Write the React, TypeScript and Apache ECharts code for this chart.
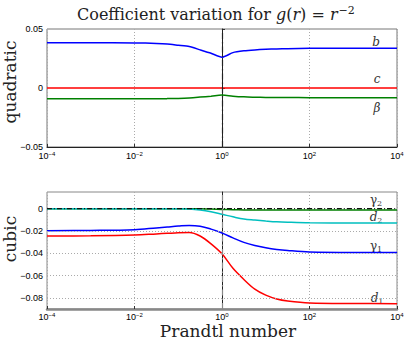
import { useEffect, useRef } from "react";
import * as echarts from "echarts";

// Prandtl numbers at which the curves are sampled
const PRANDTL = [1e-4, 1e-3, 1e-2, 0.0316, 0.0562, 0.1, 0.178, 0.316, 0.562, 1, 1.78, 3.16, 5.62, 10, 17.8, 31.6, 100, 1000, 1e4];

// Quadratic coefficients
const B_VALUES = [0.0383, 0.0383, 0.0382, 0.0378, 0.0373, 0.0362, 0.0351, 0.0323, 0.0294, 0.0261, 0.0300, 0.0315, 0.0323, 0.0328, 0.0331, 0.0333, 0.0336, 0.0337, 0.0337];
const C_VALUES = [0, 0, 0, 0, 0, 0, 0, 0, 0, 0, 0, 0, 0, 0, 0, 0, 0, 0, 0];
const BETA_VALUES = [-0.0091, -0.0091, -0.0091, -0.0091, -0.009, -0.0088, -0.0084, -0.0077, -0.0069, -0.006, -0.0069, -0.0075, -0.0078, -0.008, -0.0081, -0.0081, -0.0082, -0.0082, -0.0082];

// Cubic coefficients
const GAMMA2_VALUES = [0, 0, 0, 0, 0, 0, 0, 0, 0, 0, 0, 0, 0, 0, 0, 0, 0, 0, 0];
const GREEN_VALUES = [0, 0, 0, 0, 0, 0, 0, -0.0001, -0.0003, -0.0006, -0.0009, -0.0011, -0.0012, -0.0012, -0.0012, -0.0012, -0.0012, -0.0012, -0.0012];
const D2_VALUES = [0, 0, 0, 0, 0, 0, -0.0003, -0.0012, -0.0028, -0.005, -0.0073, -0.0093, -0.0102, -0.011, -0.0117, -0.0121, -0.0126, -0.0128, -0.0128];
const GAMMA1_VALUES = [-0.0197, -0.0195, -0.0188, -0.0172, -0.0164, -0.0156, -0.015, -0.0157, -0.0183, -0.0218, -0.0262, -0.0302, -0.033, -0.035, -0.0365, -0.0375, -0.0388, -0.0392, -0.0392];
const D1_VALUES = [-0.0245, -0.0243, -0.0236, -0.0226, -0.0221, -0.0216, -0.0214, -0.0245, -0.0315, -0.0405, -0.0535, -0.0635, -0.0722, -0.0776, -0.081, -0.0828, -0.0846, -0.0851, -0.0852];

const X_TICKS_EXP = [-4, -2, 0, 2, 4];
const CUBIC_GRID = [-0.02, -0.04, -0.06, -0.08];

const SANS = "Liberation Sans";
const SERIF = "DejaVu Serif";

const pts = (vals: number[]) => PRANDTL.map((p, i) => [Math.log10(p), vals[i]]);

const expLabel = (v: number) => {
  const e = Math.round(v);
  if (!X_TICKS_EXP.includes(e)) return "";
  return `{b|10}{s|${e < 0 ? "\u2212" + -e : e}}`;
};

const xRich = {
  b: { fontSize: 9, fontFamily: SANS, color: "#000", verticalAlign: "bottom" as const, lineHeight: 9 },
  s: { fontSize: 6, fontFamily: SANS, color: "#000", verticalAlign: "top" as const, lineHeight: 9 },
};

export default function App() {
  const ref = useRef<HTMLDivElement>(null);
  useEffect(() => {
    document.body.style.margin = "0";
    const chart = echarts.init(ref.current!, null, { renderer: "svg" });

    const xAxisBase = (gridIndex: number, lineColor: string, lineWidth: number, margin: number) => ({
      type: "value" as const,
      gridIndex,
      min: -4,
      max: 4,
      interval: 2,
      axisLine: { show: true, onZero: false, lineStyle: { color: lineColor, width: lineWidth } },
      axisTick: { show: true, inside: true, length: 3, lineStyle: { color: "#333" } },
      axisLabel: { formatter: expLabel, rich: xRich, margin, color: "#000" },
      splitLine: { show: true, lineStyle: { color: "#aaa", type: [1, 2] as any, width: 1 } },
    });

    const line = (name: string, vals: number[], color: string, xi: number, extra: any = {}) => ({
      name,
      type: "line",
      xAxisIndex: xi,
      yAxisIndex: xi,
      data: pts(vals),
      showSymbol: false,
      smooth: 0.35,
      z: 3,
      lineStyle: { color, width: 1.5 },
      ...extra,
    });

    const labelText = (x: number, y: number, main: string, sub?: string, italic = true) => ({
      type: "text",
      x,
      y,
      style: {
        text: sub ? `{m|${main}}{s|${sub}}` : `{m|${main}}`,
        rich: {
          m: { fontFamily: SERIF, fontStyle: italic ? "italic" : "normal", fontSize: 12, fill: "#333", verticalAlign: "middle" },
          s: { fontFamily: SERIF, fontSize: 8, fill: "#333", verticalAlign: "bottom", padding: [6, 0, 0, 0] },
        },
        align: "center",
        verticalAlign: "middle",
      },
    });

    const vLine = (xi: number, color: string) => ({
      type: "line",
      xAxisIndex: xi,
      yAxisIndex: xi,
      data: [],
      z: 2,
      markLine: {
        silent: true,
        symbol: "none",
        label: { show: false },
        lineStyle: { color, type: [6, 3, 1.5, 3], width: 1.2 },
        data: [{ xAxis: 0 }],
      },
    });

    chart.setOption({
      animation: false,
      grid: [
        { left: 47, top: 29, width: 350, height: 118, show: true, borderColor: "#777", borderWidth: 1 },
        { left: 47, top: 192, width: 350, height: 117, show: true, borderColor: "#888", borderWidth: 1 },
      ],
      xAxis: [xAxisBase(0, "#222", 1, 4), xAxisBase(1, "#888", 2.5, 3)],
      yAxis: [
        {
          type: "value",
          gridIndex: 0,
          min: -0.05,
          max: 0.05,
          interval: 0.05,
          axisLine: { show: true, lineStyle: { color: "#222" } },
          axisTick: { show: true, inside: true, length: 3, lineStyle: { color: "#333" } },
          axisLabel: {
            fontSize: 9,
            lineHeight: 8,
            fontFamily: SANS,
            color: "#000",
            margin: 4,
            formatter: (v: number) => (Math.abs(v) < 1e-9 ? "0" : v < 0 ? "\u2212" + (-v).toFixed(2) : v.toFixed(2)),
          },
          splitLine: { show: false },
        },
        {
          type: "value",
          gridIndex: 1,
          min: -0.09,
          max: 0.015,
          interval: 0.01,
          axisLine: { show: true, lineStyle: { color: "#222" } },
          axisTick: { show: false },
          axisLabel: {
            fontSize: 9,
            fontFamily: SANS,
            color: "#000",
            margin: 4,
            showMaxLabel: false,
            formatter: (v: number) => {
              const k = Math.round(v * 100);
              if (k > 0 || k % 2 !== 0) return "";
              return k === 0 ? "0" : "\u2212" + (-v).toFixed(2);
            },
          },
          splitLine: { show: false },
        },
      ],
      series: [
        vLine(0, "#222"),
        {
          type: "line",
          xAxisIndex: 1,
          yAxisIndex: 1,
          data: [],
          z: 1,
          markLine: {
            silent: true,
            symbol: "none",
            label: { show: false },
            lineStyle: { color: "#aaa", type: [1, 2], width: 1 },
            data: CUBIC_GRID.map((g) => ({ yAxis: g })),
          },
        },
        vLine(1, "#888"),
        line("b", B_VALUES, "#0000ff", 0, { smooth: 0.2 }),
        line("c", C_VALUES, "#ff0000", 0),
        line("β", BETA_VALUES, "#008000", 0),
        line("green", GREEN_VALUES, "#008000", 1),
        line("d2", D2_VALUES, "#00bfbf", 1),
        line("γ1", GAMMA1_VALUES, "#0000ff", 1),
        line("d1", D1_VALUES, "#ff0000", 1),
        line("γ2", GAMMA2_VALUES, "#111", 1, { lineStyle: { color: "#111", width: 1.3, type: [5, 2, 1, 2] }, z: 4 }),
      ],
      graphic: [
        {
          type: "text",
          x: 77,
          y: 14,
          style: {
            text: "{n|Coefficient variation for }{i|g}{n|(}{i|r}{n|) = }{i|r}{p|\u22122}",
            rich: {
              n: { fontFamily: SERIF, fontSize: 16, fill: "#222", verticalAlign: "middle" },
              i: { fontFamily: SERIF, fontStyle: "italic", fontSize: 16, fill: "#222", verticalAlign: "middle" },
              p: { fontFamily: SERIF, fontSize: 11, fill: "#222", verticalAlign: "top", padding: [0, 0, 8, 1] },
            },
            align: "left",
            verticalAlign: "middle",
          },
        },
        {
          type: "text",
          x: 10,
          y: 82,
          rotation: Math.PI / 2,
          style: { text: "quadratic", fontFamily: SERIF, fontSize: 17, fill: "#222", align: "center", verticalAlign: "middle" },
        },
        {
          type: "text",
          x: 10,
          y: 239,
          rotation: Math.PI / 2,
          style: { text: "cubic", fontFamily: SERIF, fontSize: 17, fill: "#222", align: "center", verticalAlign: "middle" },
        },
        {
          type: "text",
          x: 228,
          y: 331,
          style: { text: "Prandtl number", fontFamily: SERIF, fontSize: 17, fill: "#222", align: "center", verticalAlign: "middle" },
        },
        labelText(376, 42, "b"),
        labelText(377, 79, "c"),
        labelText(377, 108, "β"),
        labelText(376, 200, "γ", "2", false),
        labelText(376, 217, "d", "2"),
        labelText(376, 246, "γ", "1", false),
        labelText(377, 298, "d", "1"),
      ],
    });
    return () => chart.dispose();
  }, []);
  return <div ref={ref} style={{ width: 407, height: 342 }} />;
}
